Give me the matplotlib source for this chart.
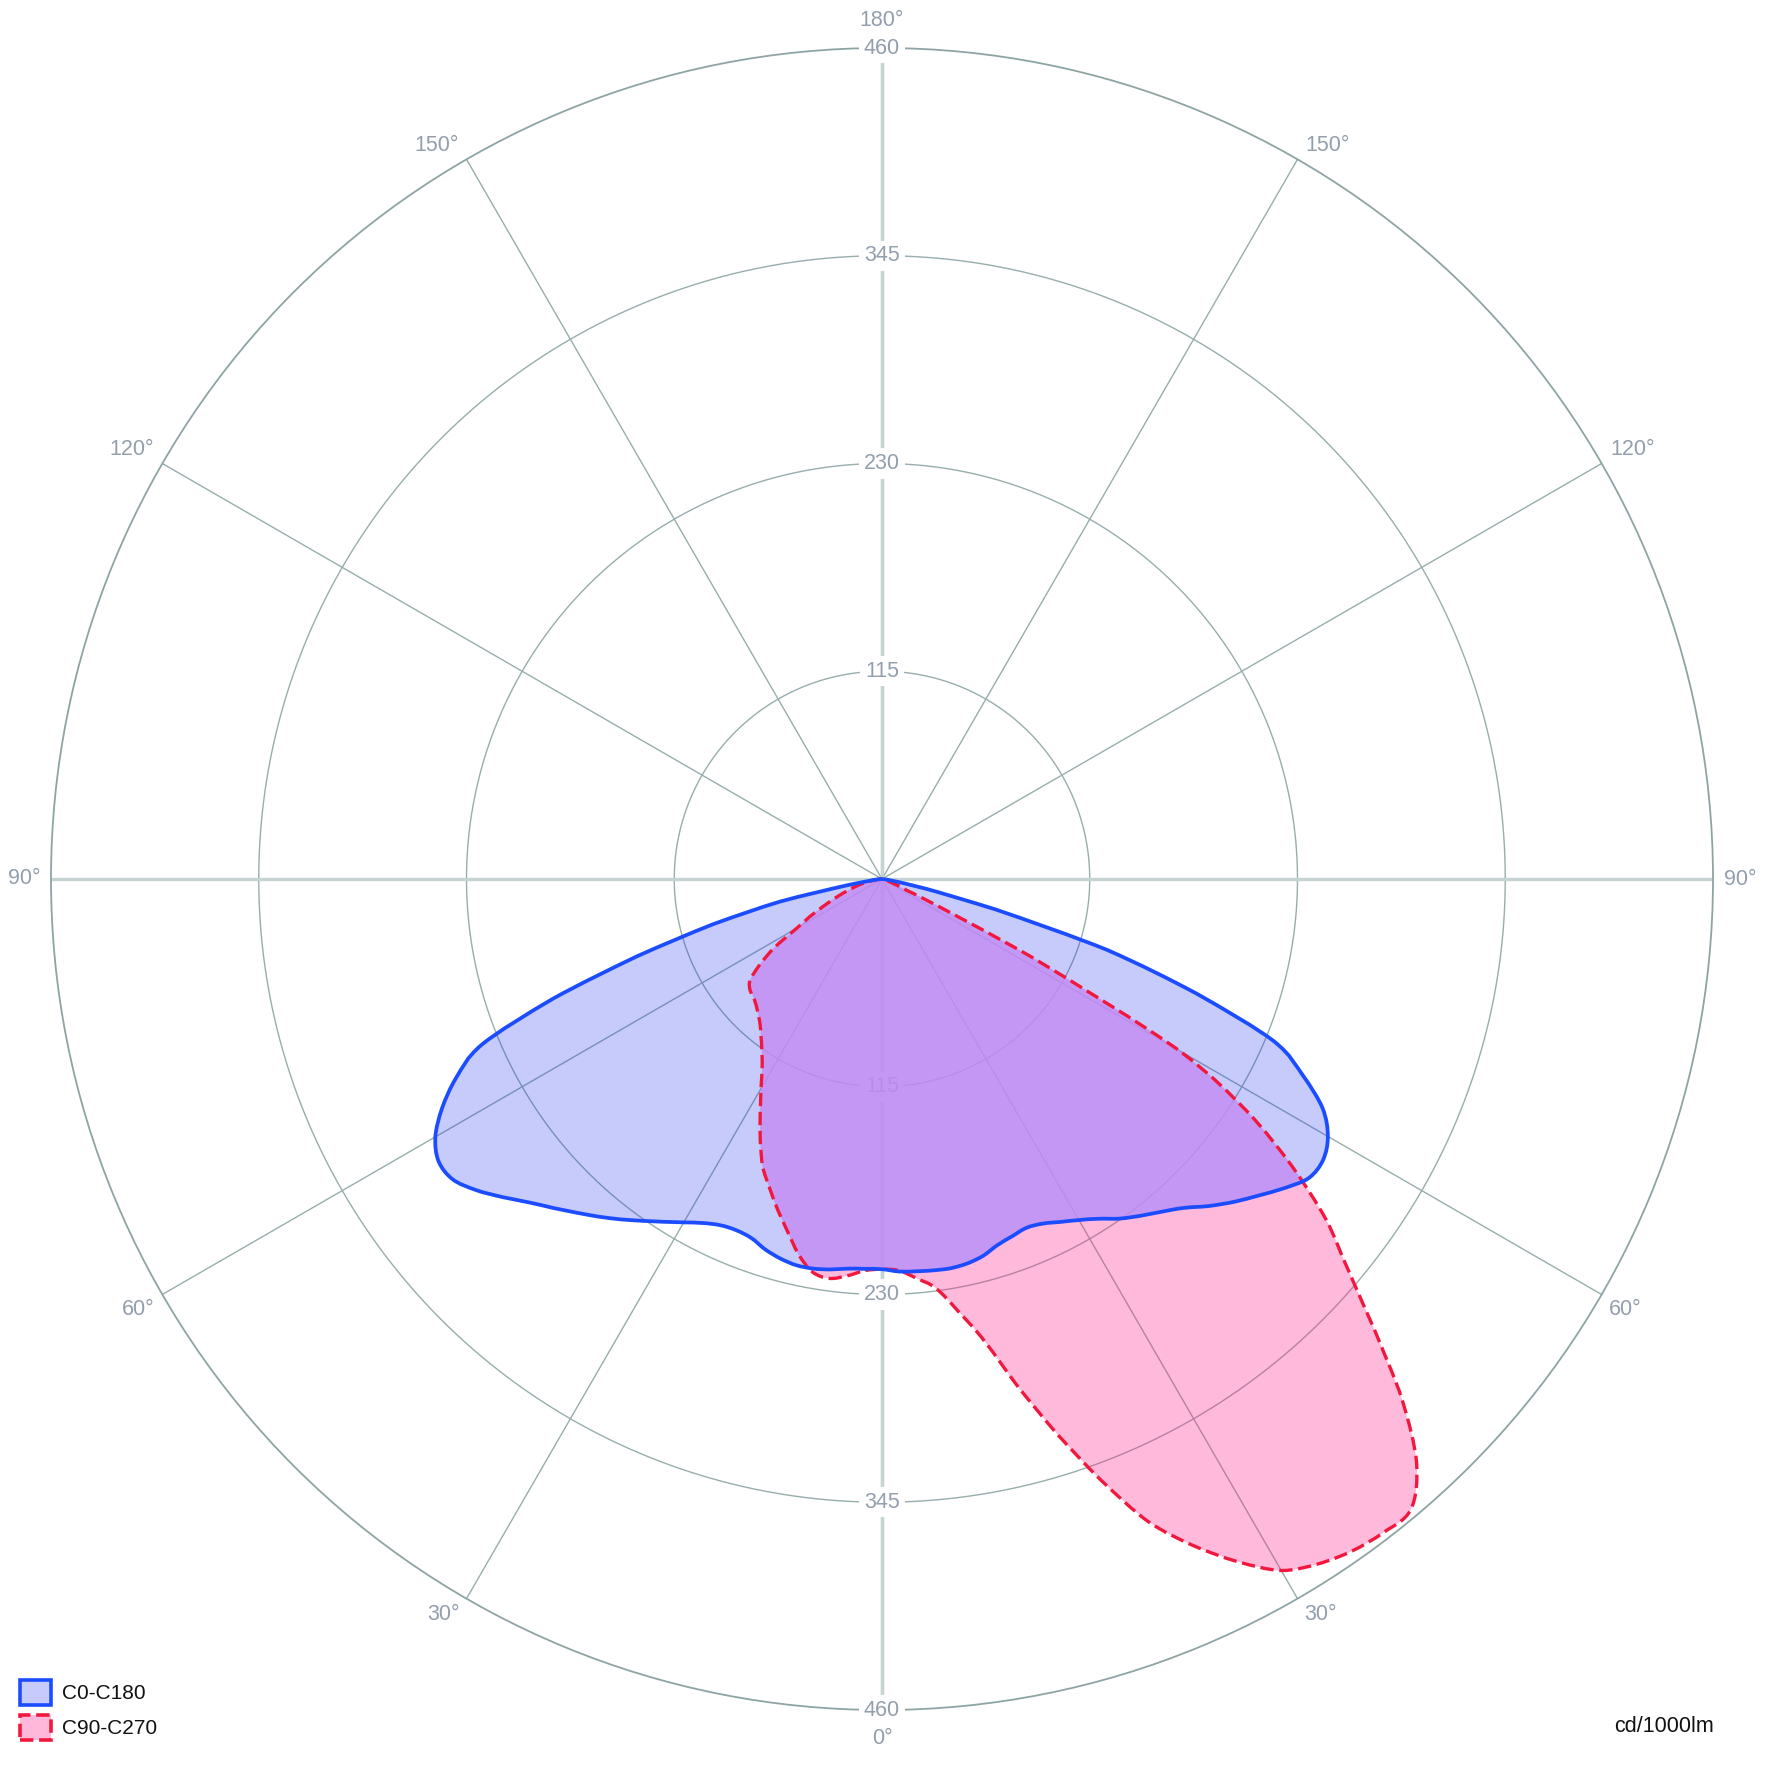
import numpy as np
import matplotlib
matplotlib.use('Agg')
import matplotlib.pyplot as plt
from matplotlib.patches import Patch, PathPatch
from matplotlib.path import Path
from matplotlib.transforms import IdentityTransform

plt.rcParams['font.family'] = ['Liberation Sans', 'DejaVu Sans']

# gamma angle in degrees, 0 = straight down
gamma = np.arange(0, 90.1, 2.5)

# C0-C180 plane, cd/1000lm (C0 = right half, C180 = left half)
c0 = [216, 217.5, 218, 218.5, 218.8, 218, 216, 212.5, 210.5, 209,
      210.5, 214, 218, 223, 229.5, 235, 240.5, 247, 256, 264.5,
      272.5, 281, 288.5, 289.5, 285, 275, 257, 235, 185, 131,
      65, 25, 8, 3, 1, 0, 0]
c180 = [216, 216, 216.5, 218, 219, 219, 217.5, 215, 211.5, 210.5,
        211.5, 214.7, 219.5, 225, 231, 237.5, 244, 250.5, 257.5, 265,
        274, 283, 290, 291, 285.5, 274.5, 260, 240, 194, 142,
        97, 58, 18, 6, 2, 0.5, 0]

# C90-C270 plane, cd/1000lm (C90 = right half, C270 = left half)
c90 = [216, 217, 222, 228.5, 243, 262, 291, 322, 354, 385,
       407, 426, 442, 449.5, 454, 456, 455.5, 438, 407, 370,
       337, 310, 277, 240, 190, 92, 23, 10, 5, 3,
       2, 1, 1, 0, 0, 0, 0]
c270 = [216, 217, 220.5, 223, 221, 213, 202, 192, 182, 172.5,
        159.5, 146, 134, 123.5, 116, 110, 105, 101.5, 98.6, 96.6,
        95.4, 92, 82.5, 70.6, 54.5, 45, 36, 29, 23, 18,
        14, 10, 6, 4, 2, 1, 0]

ring_values = [115, 230, 345, 460]
spoke_thin = [30, 60, 120, 150]
spoke_main = [0, 90, 180]
angle_labels = ['0°', '30°', '60°', '90°', '120°', '150°', '180°']
angle_pos = [0, 30, 60, 90, 120, 150, 180]
# label offsets (pixels) for the right half; left half is mirrored
angle_off = [(0, -28), (23, -16), (24, -15), (27, 0), (31, 14), (30, 14), (0, 28)]

series_labels = ['C0-C180', 'C90-C270']

blue_line = '#1B4CFF'
red_line = '#F2173D'
blue_fill = '#1E32F5'
red_fill = '#FF1E8C'
grid_col = '#98ADAD'
main_col = '#C6D3D3'
text_col = '#939FAD'


def smooth_path(theta, r):
    # smooth curve through every measured point (Catmull-Rom as Bezier)
    pts = np.column_stack([theta, r])
    n = len(pts)
    verts = [pts[0]]
    codes = [Path.MOVETO]
    for i in range(n - 1):
        p0 = pts[max(i - 1, 0)]
        p1 = pts[i]
        p2 = pts[i + 1]
        p3 = pts[min(i + 2, n - 1)]
        verts += [p1 + (p2 - p0) / 6, p2 - (p3 - p1) / 6, p2]
        codes += [Path.CURVE4] * 3
    return Path(np.array(verts), codes)


fig = plt.figure(figsize=(17.72, 17.73), dpi=100)
ax = fig.add_axes([51 / 1772, 63 / 1773, 1662 / 1772, 1662 / 1773], projection='polar')
ax.set_theta_zero_location('S')
ax.set_theta_direction(1)
ax.set_ylim(0, 460)
ax.set_xticks([])
ax.set_yticks([])
ax.grid(False)
ax.spines['polar'].set_color('#8EA4A4')
ax.spines['polar'].set_linewidth(1.3)

# grid: rings and spokes
circ = np.linspace(0, 2 * np.pi, 721)
for rv in ring_values[:-1]:
    ax.plot(circ, np.full_like(circ, rv), color=grid_col, lw=1.0, zorder=1)
for a in spoke_thin:
    for s in (1, -1):
        t = np.deg2rad(s * a)
        ax.plot([t, t], [0, 460], color=grid_col, lw=1.0, zorder=1)
for a in spoke_main:
    for s in (1, -1):
        t = np.deg2rad(s * a)
        ax.plot([t, t], [0, 460], color=main_col, lw=2.4, zorder=1.2)

# ring labels on the vertical axis
for rv in ring_values:
    for t in (0, np.pi):
        ax.text(t, rv, str(rv), ha='center', va='center', fontsize=15.5,
                color=text_col, zorder=3,
                bbox=dict(boxstyle='square,pad=0.22', fc='white', ec='none'))

# angle labels round the outside
for lbl, a, (dx, dy) in zip(angle_labels, angle_pos, angle_off):
    sides = [1] if a in (0, 180) else [1, -1]
    for s in sides:
        ax.annotate(lbl, xy=(np.deg2rad(s * a), 460), xytext=(s * dx, dy),
                    textcoords='offset pixels', ha='center', va='center',
                    fontsize=15.5, color=text_col, annotation_clip=False)

g = np.deg2rad(gamma)
theta = np.concatenate([-g[::-1], g[1:]])
r_blue = np.concatenate([np.array(c180)[::-1], np.array(c0)[1:]])
r_red = np.concatenate([np.array(c270)[::-1], np.array(c90)[1:]])

path_blue = smooth_path(theta, r_blue)
path_red = smooth_path(theta, r_red)

# fills
ax.add_patch(PathPatch(path_blue, transform=ax.transData, facecolor=blue_fill,
                       alpha=0.25, lw=0, zorder=4))
ax.add_patch(PathPatch(path_red, transform=ax.transData, facecolor=red_fill,
                       alpha=0.31, lw=0, zorder=4.1))
# overlap tint, clipped to the blue outline (in pixel space)
po = ax.add_patch(PathPatch(path_red, transform=ax.transData, facecolor='#C099FF',
                            alpha=0.75, lw=0, zorder=4.2))
blue_px = ax.transData.transform_path(path_blue).to_polygons(closed_only=True)[0]
po.set_clip_path(Path(blue_px, closed=True), IdentityTransform())

# outlines
ax.add_patch(PathPatch(path_red, transform=ax.transData, fill=False,
                       edgecolor=red_line, lw=2.4, ls=(0, (4, 1.7)), zorder=6))
ax.add_patch(PathPatch(path_blue, transform=ax.transData, fill=False,
                       edgecolor=blue_line, lw=2.7, zorder=7))

handles = [Patch(facecolor='#C6CAFC', edgecolor=blue_line, lw=2.6),
           Patch(facecolor='#FFB8DA', edgecolor=red_line, lw=2.6, linestyle='--')]
fig.legend(handles, series_labels, loc='lower left',
           bbox_to_anchor=(20 / 1772, 33 / 1773), frameon=False, borderpad=0,
           borderaxespad=0, handlelength=1.5, handleheight=1.5,
           handletextpad=0.5, labelspacing=0.45, fontsize=15,
           labelcolor='#111111')

fig.text(1714 / 1772, 46 / 1773, 'cd/1000lm', ha='right', va='center',
         fontsize=15.5, color='#111111')

fig.savefig('out.png', dpi=100)
